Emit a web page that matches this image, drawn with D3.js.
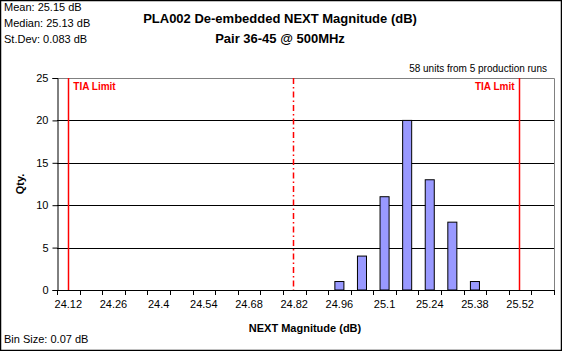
<!DOCTYPE html>
<html lang="en">
  <head>
    <meta charset="UTF-8" />
    <title>PLA002 NEXT histogram</title>
    <style>
      body { margin: 0; background: #fff; }
      svg { font-family: "Liberation Sans", Arial, sans-serif; display: block; }
    </style>
  </head>
  <body>
    <svg id="container" width="562" height="351"></svg>
  </body>
  <script src="https://cdn.jsdelivr.net/npm/d3@7"></script>
  <script>
    // bins (bin centres, dB) and counts
    const bins = [24.12, 24.19, 24.26, 24.33, 24.4, 24.47, 24.54, 24.61, 24.68, 24.75, 24.82,
                  24.89, 24.96, 25.03, 25.1, 25.17, 25.24, 25.31, 25.38, 25.45, 25.52, 25.59];
    const counts = [0, 0, 0, 0, 0, 0, 0, 0, 0, 0, 0,
                    0, 1, 4, 11, 20, 13, 8, 1, 0, 0, 0];
    const labelBins = [24.12, 24.26, 24.4, 24.54, 24.68, 24.82, 24.96, 25.1, 25.24, 25.38, 25.52];
    const yTicks = [0, 5, 10, 15, 20, 25];
    const limits = [
      { value: 24.12, dash: null },
      { value: 24.815, dash: "6,3,1.5,3" },
      { value: 25.515, dash: null }
    ];
    const stats = ["Mean: 25.15 dB", "Median: 25.13 dB", "St.Dev: 0.083 dB"];
    const binSize = 0.07;

    const svg = d3.select("#container");
    const pL = 57, pR = 554, pT = 78, pB = 290;

    // outer frame
    svg.append("rect").attr("x", 0.5).attr("y", 0.5).attr("width", 561).attr("height", 350)
      .attr("fill", "none").attr("stroke", "#000").attr("stroke-width", 1.5);

    let x = d3.scaleBand().domain(bins).range([pL, pR]).padding(0);
    let xLin = d3.scaleLinear()
      .domain([bins[0] - binSize / 2, bins[bins.length - 1] + binSize / 2])
      .range([pL, pR]);
    let y = d3.scaleLinear().domain([0, 25]).range([pB, pT]);

    // plot border (grey top/right)
    svg.append("path")
      .attr("d", `M${pL},${pT + 0.5}H${pR + 0.5}V${pB}`)
      .attr("fill", "none").attr("stroke", "#808080");

    // grid lines
    svg.append("g").selectAll("line").data(yTicks.filter(d => d > 0 && d < 25)).join("line")
      .attr("x1", pL).attr("x2", pR)
      .attr("y1", d => Math.round(y(d)) + 0.5).attr("y2", d => Math.round(y(d)) + 0.5)
      .attr("stroke", "#000");

    // bars
    const bw = x.bandwidth() * 0.4;
    svg.append("g").selectAll("rect").data(bins.map((b, i) => ({ b, c: counts[i] })).filter(d => d.c > 0))
      .join("rect")
      .attr("x", d => x(d.b) + (x.bandwidth() - bw) / 2)
      .attr("y", d => y(d.c))
      .attr("width", bw)
      .attr("height", d => y(0) - y(d.c))
      .attr("fill", "#9999FF")
      .attr("stroke", "#000");

    // limit lines
    svg.append("g").selectAll("line").data(limits).join("line")
      .attr("x1", d => Math.round(xLin(d.value)) + 0.5).attr("x2", d => Math.round(xLin(d.value)) + 0.5)
      .attr("y1", pT).attr("y2", pB)
      .attr("stroke", "#FF0000").attr("stroke-width", 1.5)
      .attr("stroke-dasharray", d => d.dash);

    svg.append("text").attr("x", xLin(limits[0].value) + 5).attr("y", 90)
      .attr("font-size", 10).attr("font-weight", "bold").attr("fill", "#FF0000").text("TIA Limit");
    svg.append("text").attr("x", xLin(limits[2].value) - 4).attr("y", 90)
      .attr("text-anchor", "end")
      .attr("font-size", 10).attr("font-weight", "bold").attr("fill", "#FF0000").text("TIA Lmit");

    // x axis: labels every other bin, ticks at bin edges
    let xAxis = d3.axisBottom(x).tickValues(labelBins).tickSize(0).tickPadding(10);
    let gx = svg.append("g").attr("transform", `translate(0,${pB})`).call(xAxis);
    gx.select(".domain").remove();
    gx.selectAll("text").attr("font-size", 11).attr("font-family", "Liberation Sans, Arial, sans-serif").attr("fill", "#000");
    svg.append("line").attr("x1", pL).attr("x2", pR + 1).attr("y1", pB + 0.5).attr("y2", pB + 0.5).attr("stroke", "#000");
    svg.append("g").selectAll("line").data(bins.map(b => x(b)).concat([pR])).join("line")
      .attr("x1", d => Math.round(d) + 0.5).attr("x2", d => Math.round(d) + 0.5)
      .attr("y1", pB).attr("y2", pB + 5).attr("stroke", "#000");

    // y axis
    let yAxis = d3.axisLeft(y).tickValues(yTicks).tickSize(5).tickPadding(4);
    let gy = svg.append("g").attr("transform", `translate(${pL + 0.5},0)`).call(yAxis);
    gy.selectAll("text").attr("font-size", 11).attr("font-family", "Liberation Sans, Arial, sans-serif").attr("fill", "#000");
    gy.select(".domain").attr("stroke", "#000");

    // titles
    svg.append("text").attr("x", 280).attr("y", 23).attr("text-anchor", "middle")
      .attr("font-size", 13).attr("font-weight", "bold").text("PLA002 De-embedded NEXT Magnitude (dB)");
    svg.append("text").attr("x", 280).attr("y", 43).attr("text-anchor", "middle")
      .attr("font-size", 13).attr("font-weight", "bold").text("Pair 36-45 @ 500MHz");
    svg.append("text").attr("x", 305).attr("y", 332).attr("text-anchor", "middle")
      .attr("font-size", 11).attr("font-weight", "bold").text("NEXT Magnitude (dB)");
    svg.append("text").attr("transform", "translate(24,184) rotate(-90)").attr("text-anchor", "middle")
      .attr("font-size", 11).attr("font-weight", "bold").text("Qty.");

    // stats and notes
    svg.append("g").selectAll("text").data(stats).join("text")
      .attr("x", 4).attr("y", (d, i) => 11 + i * 16)
      .attr("font-size", 11).text(d => d);
    svg.append("text").attr("x", 547).attr("y", 72).attr("text-anchor", "end")
      .attr("font-size", 10).text("58 units from 5 production runs");
    svg.append("text").attr("x", 4).attr("y", 343)
      .attr("font-size", 11).text("Bin Size: " + binSize + " dB");
  </script>
</html>
